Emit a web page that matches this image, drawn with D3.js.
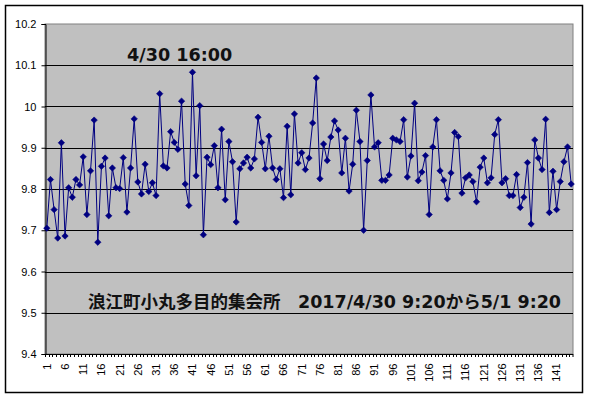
<!DOCTYPE html>
<html>
<head>
<meta charset="utf-8">
<style type="text/css">
body { margin: 0; background: #fff; }
.tick text { font-family: "Liberation Sans", Arial, sans-serif; }
</style>
</head>
<body>
<script src="https://d3js.org/d3.v7.min.js"></script>
<script>
// values, one per 10 minutes (1..145)
var values = [
  9.705, 9.823, 9.750, 9.681, 9.912, 9.686, 9.803, 9.780, 9.823, 9.810,
  9.878, 9.738, 9.844, 9.967, 9.671, 9.855, 9.875, 9.735, 9.851, 9.803,
  9.801, 9.876, 9.744, 9.851, 9.970, 9.817, 9.788, 9.860, 9.794, 9.815,
  9.784, 10.031, 9.856, 9.851, 9.939, 9.913, 9.896, 10.013, 9.812, 9.760,
  10.083, 9.832, 10.002, 9.689, 9.877, 9.859, 9.905, 9.803, 9.945, 9.774,
  9.915, 9.866, 9.720, 9.849, 9.863, 9.877, 9.851, 9.873, 9.974, 9.913,
  9.849, 9.928, 9.851, 9.823, 9.849, 9.779, 9.952, 9.786, 9.982, 9.863,
  9.888, 9.847, 9.875, 9.960, 10.069, 9.825, 9.909, 9.869, 9.926, 9.965,
  9.943, 9.839, 9.923, 9.795, 9.860, 9.991, 9.915, 9.700, 9.869, 10.028,
  9.902, 9.912, 9.821, 9.821, 9.834, 9.923, 9.919, 9.915, 9.968, 9.829,
  9.880, 10.008, 9.820, 9.841, 9.881, 9.738, 9.902, 9.968, 9.844, 9.821,
  9.776, 9.839, 9.937, 9.927, 9.790, 9.827, 9.834, 9.818, 9.769, 9.853,
  9.875, 9.815, 9.827, 9.932, 9.968, 9.815, 9.825, 9.784, 9.784, 9.835,
  9.755, 9.780, 9.864, 9.715, 9.919, 9.875, 9.847, 9.969, 9.743, 9.843,
  9.750, 9.818, 9.866, 9.902, 9.812
];
var categories = values.map(function(d, i){ return i + 1; });
var yTicks = [9.4, 9.5, 9.6, 9.7, 9.8, 9.9, 10, 10.1, 10.2];
var xLabels = categories.filter(function(d){ return (d - 1) % 5 == 0; });
var peakLabel = "4/30 16:00";
var titleLabel = "浪江町小丸多目的集会所\u30002017/4/30 9:20から5/1 9:20";

var W = 589, H = 398;
var plot = {left: 45, right: 573, top: 24, bottom: 354};

var svg = d3.select("body").append("svg")
    .attr("width", W).attr("height", H);

// outer chart border
svg.append("rect")
    .attr("x", 5.5).attr("y", 5.5)
    .attr("width", 577).attr("height", 387)
    .attr("fill", "#fff").attr("stroke", "#000").attr("stroke-width", 1.5);

var x = d3.scaleBand().domain(categories).range([plot.left, plot.right]);
var y = d3.scaleLinear().domain([9.4, 10.2]).range([plot.bottom, plot.top]);
var cx = function(d){ return x(d) + x.bandwidth() / 2; };

// plot area
svg.append("rect")
    .attr("x", plot.left).attr("y", plot.top)
    .attr("width", plot.right - plot.left).attr("height", plot.bottom - plot.top)
    .attr("fill", "#c0c0c0").attr("stroke", "#808080").attr("stroke-width", 1);

// gridlines
svg.append("g").selectAll("line")
  .data(yTicks.slice(1, -1))
  .enter().append("line")
    .attr("x1", plot.left).attr("x2", plot.right)
    .attr("y1", function(d){ return Math.round(y(d)) + 0.5; })
    .attr("y2", function(d){ return Math.round(y(d)) + 0.5; })
    .attr("stroke", "#000").attr("stroke-width", 1);

// y axis
var yAxis = svg.append("g")
    .attr("transform", "translate(" + (plot.left + 0.5) + ",0)")
    .call(d3.axisLeft(y).tickValues(yTicks).tickSize(4).tickPadding(5)
      .tickFormat(function(d){ return d3.format("")(+d.toFixed(1)); }));
yAxis.select(".domain").attr("stroke", "#000");
yAxis.selectAll("text").attr("font-size", 11).attr("fill", "#000");

// x axis: labels at category centres, ticks at boundaries
var xAxis = svg.append("g")
    .attr("transform", "translate(0," + (plot.bottom + 0.5) + ")")
    .call(d3.axisBottom(x).tickValues(xLabels).tickSize(0).tickPadding(0));
xAxis.select(".domain").remove();
xAxis.selectAll("text")
    .attr("font-size", 11).attr("fill", "#000")
    .attr("transform", "translate(0,9) rotate(-90)")
    .attr("text-anchor", "end").attr("dy", "0.35em").attr("y", 0);

svg.append("line")
    .attr("x1", plot.left).attr("x2", plot.right)
    .attr("y1", plot.bottom + 0.5).attr("y2", plot.bottom + 0.5)
    .attr("stroke", "#000");
svg.append("g").selectAll("line")
  .data(categories.concat([null]))
  .enter().append("line")
    .attr("x1", function(d){ return d == null ? plot.right : Math.round(x(d)) + 0.5; })
    .attr("x2", function(d){ return d == null ? plot.right : Math.round(x(d)) + 0.5; })
    .attr("y1", plot.bottom).attr("y2", plot.bottom + 3)
    .attr("stroke", "#000").attr("stroke-width", 1);

// series line
var line = d3.line()
    .x(function(d, i){ return cx(categories[i]); })
    .y(function(d){ return y(d); });
svg.append("path")
    .datum(values)
    .attr("d", line)
    .attr("fill", "none").attr("stroke", "#000080").attr("stroke-width", 1);

// diamond markers
var diamond = d3.symbol().type(d3.symbolDiamond2).size(26);
svg.append("g").selectAll("path")
  .data(values)
  .enter().append("path")
    .attr("d", diamond)
    .attr("transform", function(d, i){ return "translate(" + cx(categories[i]) + "," + y(d) + ")"; })
    .attr("fill", "#000080").attr("stroke", "#000080").attr("stroke-width", 0.6);

// annotations
svg.append("text")
    .attr("x", 127).attr("y", 61)
    .style("font-family", "'DejaVu Sans', Verdana, sans-serif")
    .style("font-weight", "bold").style("font-size", "17.6px").attr("fill", "#111")
    .text(peakLabel);
svg.append("text")
    .attr("x", 88).attr("y", 308)
    .style("font-family", "'DejaVu Sans', 'Noto Sans CJK JP', sans-serif")
    .style("font-weight", "bold").style("font-size", "17.5px").attr("fill", "#111")
    .text(titleLabel);
</script>
</body>
</html>
